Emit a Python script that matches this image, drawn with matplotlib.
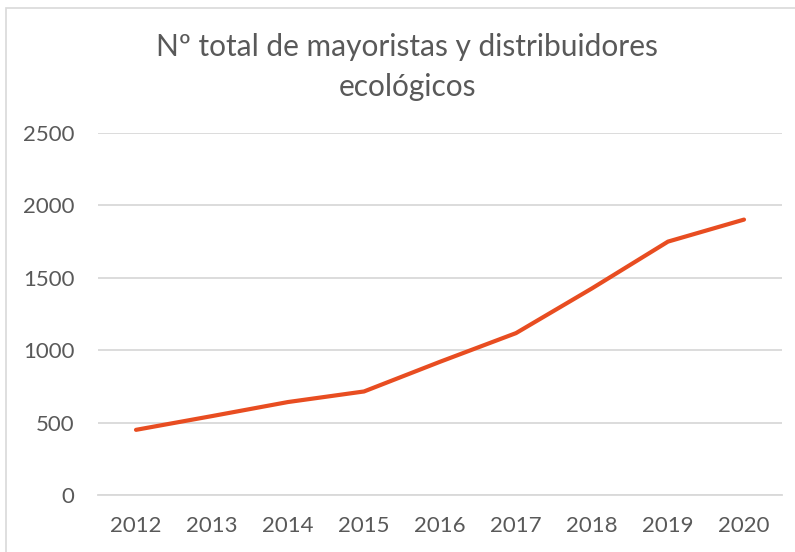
import matplotlib
matplotlib.use("Agg")
import matplotlib.pyplot as plt
from matplotlib.patches import Rectangle

years = ["2012", "2013", "2014", "2015", "2016", "2017", "2018", "2019", "2020"]
values = [450, 545, 642, 715, 920, 1118, 1427, 1750, 1902]
yticks = [0, 500, 1000, 1500, 2000, 2500]
title_lines = ["Nº total de mayoristas y distribuidores", "ecológicos"]

W, H = 795, 552
fig = plt.figure(figsize=(W / 100, H / 100), dpi=100)
fig.patch.set_facecolor("white")
plt.rcParams['font.family'] = ['Lato', 'DejaVu Sans']

# chart border
fig.patches.append(Rectangle((6 / W, -0.1), 1.2, 1.1 - 8 / H, transform=fig.transFigure,
                             fill=False, edgecolor="#D9D9D9", linewidth=1.2))

ax = fig.add_axes([98 / W, (H - 495) / H, (782 - 98) / W, (495 - 133) / H])
x = list(range(len(years)))
ax.plot(x, values, color="#E84D21", linewidth=3.0, solid_capstyle="round", solid_joinstyle="round")
ax.set_xlim(-0.5, len(years) - 0.5)
ax.set_ylim(0, 2500)
ax.set_yticks(yticks)
ax.set_yticklabels([str(v) for v in yticks])
ax.set_xticks(x)
ax.set_xticklabels(years)
ax.grid(axis="y", color="#D9D9D9", linewidth=1.3)
ax.set_axisbelow(True)
for s in ["top", "right", "left"]:
    ax.spines[s].set_visible(False)
ax.spines["bottom"].set_color("#D9D9D9")
ax.spines["bottom"].set_linewidth(1.3)
ax.tick_params(axis="both", length=0, labelsize=16, colors="#595959")
ax.tick_params(axis="y", pad=17)
ax.tick_params(axis="x", pad=15)

fig.text(407 / W, 1 - 47 / H, title_lines[0], ha="center", va="center", fontsize=21.5, color="#595959")
fig.text(407 / W, 1 - 87 / H, title_lines[1], ha="center", va="center", fontsize=21.5, color="#595959")

fig.savefig("out.png", dpi=100)
